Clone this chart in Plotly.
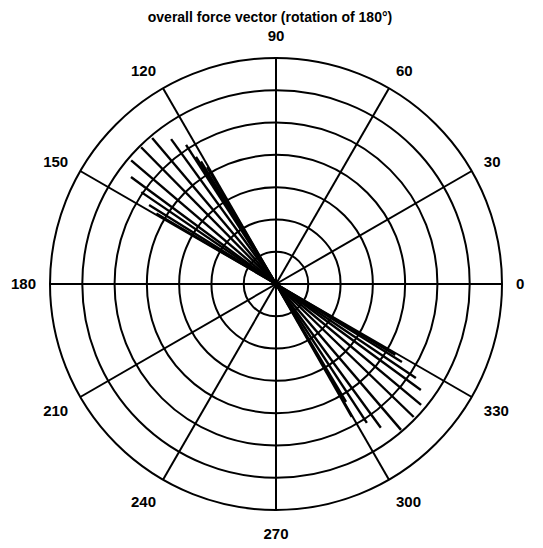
import plotly.graph_objects as go

# Upper fan vectors (angle in degrees, magnitude in ring units)
upper_angles = [120.5, 121.5, 122.2, 122.9, 125.9, 130.3, 134.6, 139.5, 143.6, 145.7, 148.1, 149.5]
upper_mags = [4.20, 4.45, 4.65, 5.13, 5.54, 5.93, 5.95, 5.90, 5.58, 5.05, 4.63, 4.30]

# Lower fan vectors (rotated by 180 degrees)
lower_angles = [299.7, 300.7, 303.2, 306.1, 310.6, 316.0, 320.2, 323.8, 326.1, 328.2, 329.3]
lower_mags = [4.74, 4.25, 5.14, 5.51, 5.95, 5.93, 5.85, 5.56, 5.22, 4.59, 4.30]

angle_ticks = [0, 30, 60, 90, 120, 150, 180, 210, 240, 270, 300, 330]
angle_labels = ["0", "30", "60", "90", "120", "150", "180", "210", "240", "270", "300", "330"]
ring_values = [1, 2, 3, 4, 5, 6, 7]

title_text = "overall force vector (rotation of 180°)"


def segments(angles, mags):
    th, r = [], []
    for a, m in zip(angles, mags):
        th += [a, a, None]
        r += [0, m, None]
    return th, r


fig = go.Figure()
for angs, mags in [(upper_angles, upper_mags), (lower_angles, lower_mags)]:
    th, r = segments(angs, mags)
    fig.add_trace(go.Scatterpolar(
        theta=th, r=r, mode="lines",
        line=dict(color="black", width=2.4),
        showlegend=False, hoverinfo="skip", connectgaps=False,
    ))

W, H = 535, 540
fig.update_layout(
    width=W, height=H,
    margin=dict(l=42, r=41, t=50, b=38),
    paper_bgcolor="white",
    plot_bgcolor="white",
    font=dict(family="Liberation Sans, Arial, sans-serif", color="black"),
    title=dict(
        text="<b>" + title_text + "</b>",
        x=262 / W, xanchor="center",
        y=1 - 9 / H, yanchor="middle", yref="container",
        font=dict(size=14, color="black", family="Liberation Sans, Arial, sans-serif"),
    ),
    polar=dict(
        bgcolor="white",
        domain=dict(x=[0, 1], y=[0, 1]),
        radialaxis=dict(
            range=[0, max(ring_values)],
            tickvals=ring_values,
            showticklabels=False,
            ticks="",
            showline=False,
            showgrid=True,
            gridcolor="black",
            gridwidth=2,
        ),
        angularaxis=dict(
            rotation=0,
            direction="counterclockwise",
            tickmode="array",
            tickvals=angle_ticks,
            ticktext=["<b>" + t + "</b>" for t in angle_labels],
            tickfont=dict(size=15, color="black", family="Liberation Sans, Arial, sans-serif"),
            ticks="outside",
            ticklen=10,
            tickcolor="rgba(0,0,0,0)",
            showline=True,
            linecolor="black",
            linewidth=2,
            showgrid=True,
            gridcolor="black",
            gridwidth=2,
        ),
    ),
)

fig.write_html("out.html")
